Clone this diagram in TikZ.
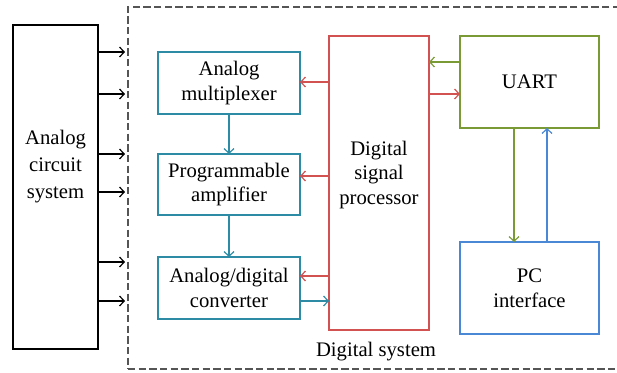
\documentclass[tikz,border=0pt]{standalone}
\usepackage{fontspec}
\setmainfont{Liberation Serif}
\usepackage{xcolor}
\usetikzlibrary{arrows.meta}
\definecolor{CTeal}{HTML}{2E8BA6}
\definecolor{CRed}{HTML}{D25252}
\definecolor{CGreen}{HTML}{7A9A36}
\definecolor{CBlue}{HTML}{4A88D6}
\definecolor{CDash}{HTML}{555555}
\tikzset{
  blk/.style={draw, line width=0.9pt, inner sep=0pt, outer sep=0pt, align=center, font=\fontsize{15.5}{18.5}\selectfont},
  txt/.style={align=center, inner sep=0pt, font=\fontsize{15.5}{18.5}\selectfont},
  arr/.style={line width=0.9pt, -{Straight Barb[length=3.5pt,width=7.5pt]}}
}

\begin{document}
\begin{tikzpicture}[x=0.75pt, y=-0.75pt]%
\clip (0,0) rectangle (617,372);%
% outer dashed frame of the digital part
\node[draw=CDash, line width=0.9pt, dash pattern=on 5.5pt off 2.5pt, minimum width=372.75pt, minimum height=271.5pt, inner sep=0pt] (digital) at (376.5,188) {};%
\node[txt] (digitallabel) at (376,352) {Digital system};%
% analog side
\node[blk, minimum width=63.75pt, minimum height=243pt] (acs) at (55.5,187) {};%
\node[txt, font=\fontsize{15.5}{20.25}\selectfont] (acslabel) at (55.5,167) {Analog\\circuit\\system};%
\foreach \y in {52,94,154,192,262,301}
  \draw[arr] (acs.east |- 0,\y) -- ++(27,0);%
% acquisition chain
\node[blk, draw=CTeal, minimum width=106.5pt, minimum height=46.5pt] (mux) at (229,83) {Analog\\multiplexer};%
\node[blk, draw=CTeal, minimum width=106.5pt, minimum height=45.75pt] (amp) at (229,184.5) {Programmable\\amplifier};%
\node[blk, draw=CTeal, minimum width=106.5pt, minimum height=46.5pt] (adc) at (229,288) {Analog/digital\\converter};%
\draw[arr, CTeal] (mux.south) -- (amp.north);%
\draw[arr, CTeal] (amp.south) -- (adc.north);%
% processor and host link
\node[blk, draw=CRed, minimum width=75pt, minimum height=220.5pt] (dsp) at (379,183) {};%
\node[txt] (dsplabel) at (379,175) {Digital\\signal\\processor};%
\node[blk, draw=CGreen, minimum width=104.25pt, minimum height=69pt] (uart) at (529.5,82) {UART};%
\node[blk, draw=CBlue, minimum width=104.25pt, minimum height=69pt] (pc) at (529.5,288) {PC\\interface};%
\draw[arr, CRed] (dsp.west |- 0,82) -- (mux.east |- 0,82);%
\draw[arr, CRed] (dsp.west |- 0,176) -- (amp.east |- 0,176);%
\draw[arr, CRed] (dsp.west |- 0,276) -- (adc.east |- 0,276);%
\draw[arr, CTeal] (adc.east |- 0,301) -- (dsp.west |- 0,301);%
\draw[arr, CGreen] (uart.west |- 0,62) -- (dsp.east |- 0,62);%
\draw[arr, CRed] (dsp.east |- 0,94) -- (uart.west |- 0,94);%
\draw[arr, CGreen] (uart.south -| 514,0) -- (pc.north -| 514,0);%
\draw[arr, CBlue] (pc.north -| 547,0) -- (uart.south -| 547,0);%
\end{tikzpicture}
\end{document}
